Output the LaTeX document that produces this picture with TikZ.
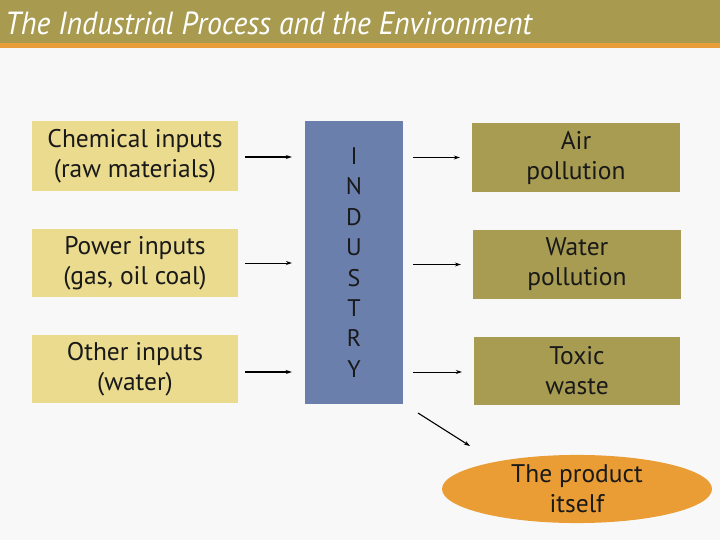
\documentclass[tikz,border=0pt]{standalone}
\usepackage{fontspec}
\setmainfont{PT Sans}
\usetikzlibrary{shapes.geometric,arrows.meta}
\definecolor{titlebar}{HTML}{A89B50}
\definecolor{strip}{HTML}{E99D3A}
\definecolor{bg}{HTML}{F8F8F8}
\definecolor{inbox}{HTML}{EADB8E}
\definecolor{indbox}{HTML}{6A7FAB}
\definecolor{outbox}{HTML}{A79C52}
\definecolor{prod}{HTML}{EA9D35}
\tikzset{
  bodyfont/.style={font=\fontsize{25.5}{30}\selectfont, text=black!90},
  inputbox/.style={fill=inbox, minimum width=206pt, minimum height=70pt, align=center, bodyfont},
  outputbox/.style={fill=outbox, minimum width=208pt, minimum height=69pt, align=center, bodyfont},
  flow/.style={-{Stealth[length=6pt,width=4pt]}, line width=1.1pt},
  thinflow/.style={-{Stealth[length=6pt,width=4pt]}, line width=0.7pt}
}
\begin{document}
\begin{tikzpicture}[x=1pt,y=-1pt]
\useasboundingbox (0,0) rectangle (720,540);
\fill[bg] (0,0) rectangle (720,540);
\fill[titlebar] (0,0) rectangle (720,43);
\fill[strip] (0,43) rectangle (720,48);
\node[anchor=base west, text=white, font=\fontsize{32}{36}\itshape\selectfont, xscale=0.93, inner sep=0] (title) at (5,35) {The Industrial Process and the Environment};

\node[inputbox] (chem) at (135,156.5) {Chemical inputs\\(raw materials)};
\node[inputbox, minimum height=68pt] (power) at (135,263) {Power inputs\\(gas, oil coal)};
\node[inputbox, minimum height=68pt] (other) at (135,369) {Other inputs\\(water)};

\node[fill=indbox, minimum width=98pt, minimum height=283pt, align=center, font=\fontsize{24}{30.4}\selectfont, text=black!90] (ind) at (354,262.5) {I\\N\\D\\U\\S\\T\\R\\Y};

\node[outputbox] (air) at (576,157.5) {Air\\pollution};
\node[outputbox] (water) at (577,264.5) {Water\\pollution};
\node[outputbox, minimum width=206pt, minimum height=68pt] (toxic) at (577,371) {Toxic\\waste};

\node[ellipse, fill=prod, minimum width=270pt, minimum height=64pt, align=center, inner sep=0, bodyfont] (product) at (577,489) {The product\\itself};

\draw[flow] ([xshift=7pt]chem.east |- 0,157) -- ([xshift=-13pt]ind.west |- 0,157);
\draw[thinflow] ([xshift=7pt]power.east) -- ([xshift=-13pt]ind.west |- power.east);
\draw[flow] ([xshift=7pt]other.east |- 0,372) -- ([xshift=-13pt]ind.west |- 0,372);

\draw[flow] ([xshift=10pt]ind.east |- air.west) -- ([xshift=-12pt]air.west);
\draw[flow, line width=1.4pt] ([xshift=10pt]ind.east |- water.west) -- ([xshift=-12pt]water.west);
\draw[thinflow] ([xshift=10pt]ind.east |- 0,372) -- ([xshift=-12pt]toxic.west |- 0,372);

\coordinate (d1) at (418,413);
\coordinate (d2) at (470,446);
\draw[flow] (d1) -- (d2);
\end{tikzpicture}
\end{document}
